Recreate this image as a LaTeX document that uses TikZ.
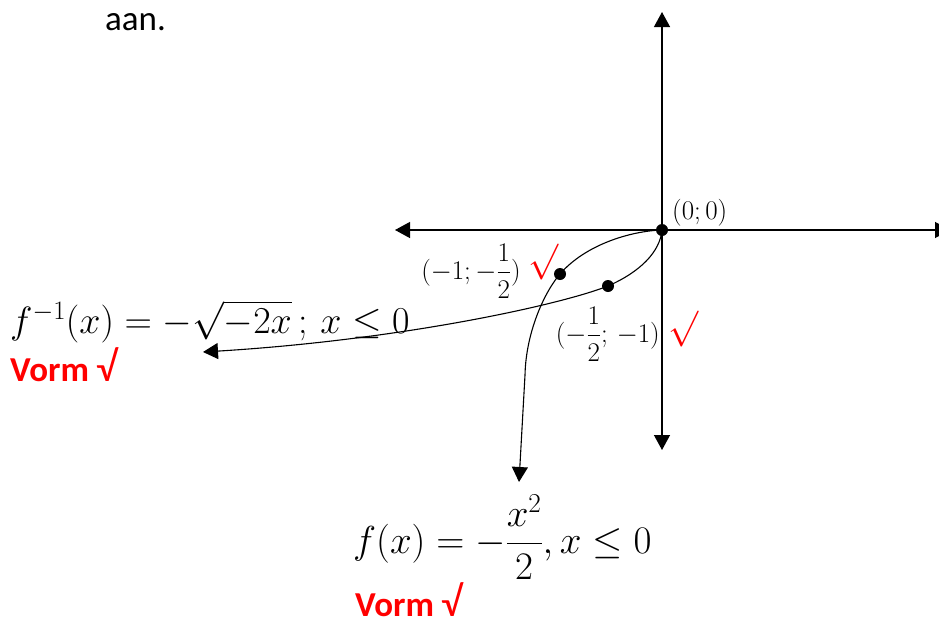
\RequirePackage{fix-cm}
\documentclass[tikz,border=0pt]{standalone}
\usepackage{amsmath}
\usepackage[no-math]{fontspec}
\setmainfont{Carlito}
\usetikzlibrary{arrows.meta}
\definecolor{markred}{RGB}{255,0,0}
\newcommand{\bigcheck}{{\mdseries\fontsize{42}{42}\selectfont\raisebox{0pt}[\height][0pt]{√}}}
\tikzset{
  axisline/.style={line width=1.3pt,-{Triangle[width=16pt,length=15pt]}},
  curveline/.style={line width=1.1pt,-{Triangle[width=16pt,length=15pt]}},
  ptdot/.style={circle,fill=black,inner sep=0pt,minimum size=12pt},
  ptlabel/.style={inner sep=0pt,font=\fontsize{27}{30}\selectfont},
  tick/.style={inner sep=0pt,text=markred,font=\fontsize{36}{40}\selectfont},
  formula/.style={inner sep=0pt,font=\fontsize{38}{44}\selectfont},
  vorm/.style={inner sep=0pt,text=markred,font=\fontsize{35}{40}\selectfont\bfseries},
  plain/.style={inner sep=0pt,font=\fontsize{35}{42}\selectfont}
}
\begin{document}
\begin{tikzpicture}[x=1pt,y=-1pt]
\useasboundingbox (0,0) rectangle (939,624);
\clip (0,0) rectangle (939,624);
% text top
\node[plain,anchor=base west] (aan) at (105,30) {aan.};
% axes
\coordinate (O) at (662,230);
\coordinate (ytop) at (662,12);
\coordinate (ybot) at (662,450);
\coordinate (xleft) at (395,230);
\coordinate (xright) at (950,230);
\draw[axisline] (O) -- (ytop);
\draw[axisline] (O) -- (ybot);
\draw[axisline] (O) -- (xleft);
\draw[axisline] (O) -- (xright);
% points
\coordinate (d1) at (560,274);
\coordinate (d2) at (608,286);
\coordinate (tipF) at (519,482);
\coordinate (tipG) at (203,352);
% f curve
\draw[curveline] (O) .. controls (630,231) and (585,245) .. (d1)
  .. controls (546,290) and (526,330) .. (525,375) -- (tipF);
% f inverse curve
\draw[curveline] (O) .. controls (660,252) and (640,272) .. (d2)
  .. controls (560,305) and (400,340) .. (tipG);
\node[ptdot] (P0) at (O) {};
\node[ptdot] (P1) at (d1) {};
\node[ptdot] (P2) at (d2) {};
% labels
\node[ptlabel,anchor=base west] (l0) at (672,219) {$(0;0)$};
\node[ptlabel,anchor=east] (l1) at (521,271) {$(-1;-\dfrac{1}{2})$};
\node[tick] (t1) at (543,262) {$\surd$};
\node[ptlabel,anchor=east] (l2) at (660,334) {$(-\dfrac{1}{2};\,-1)$};
\node[tick] (t2) at (683,329) {$\surd$};
% formulas
\node[formula,anchor=base west] (finv) at (10,333) {$f^{-1}(x)=-\sqrt{-2x}\,;\,x\leq 0$};
\node[vorm,anchor=base west] (v1) at (10,381) {Vorm \bigcheck};
\node[formula,anchor=base west,font=\fontsize{39}{44}\selectfont] (fx) at (353,553) {$f(x)=-\dfrac{x^2}{2},x\leq 0$};
\node[vorm,anchor=base west] (v2) at (355,616) {Vorm \bigcheck};
\end{tikzpicture}
\end{document}
